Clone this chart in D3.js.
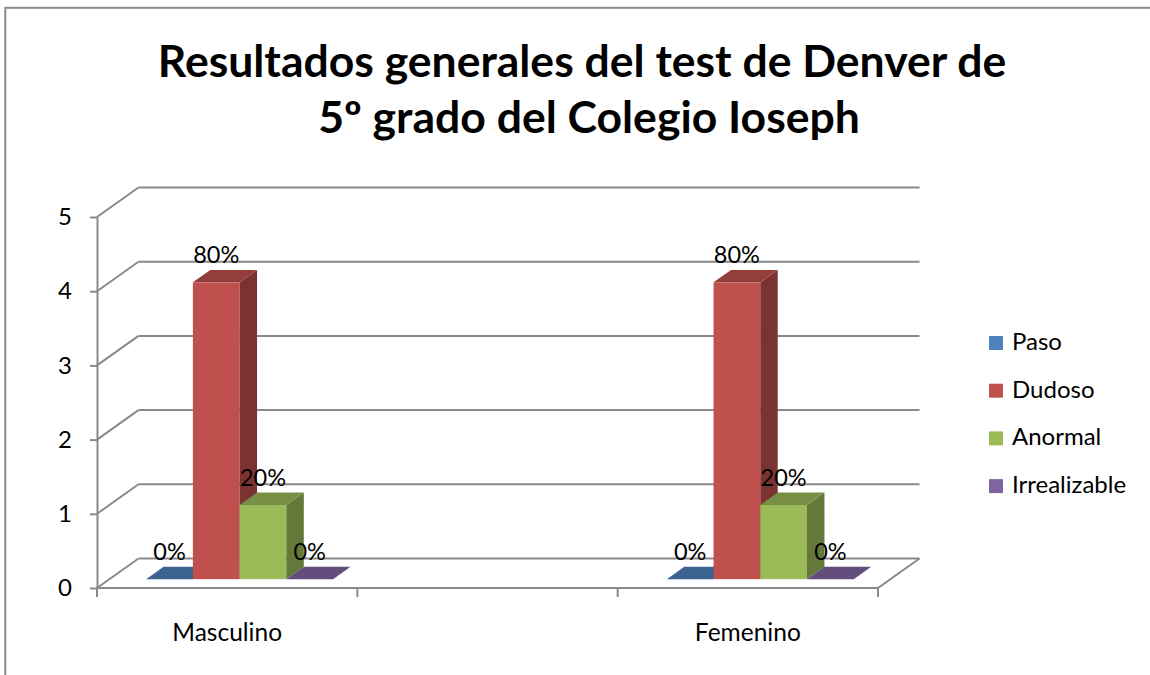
<!DOCTYPE html>
<html>
<head>
<meta charset="utf-8">
<script src="https://cdn.jsdelivr.net/npm/d3@7"></script>
<style>
  html, body { margin: 0; padding: 0; background: #fff; }
  svg { display: block; }
  text { font-family: Lato, "Open Sans", sans-serif; fill: #000; }
</style>
</head>
<body>
<svg id="chart" width="1150" height="675"></svg>
<script>
// Chart data
const titleLines = ["Resultados generales del test de Denver de", "5º grado del Colegio Ioseph"];
const categories = ["Masculino", "", "Femenino"];
const series = ["Paso", "Dudoso", "Anormal", "Irrealizable"];
const seriesColors = ["#4F81BD", "#C0504D", "#9BBB59", "#8064A2"];
// counts per category, one array per series (middle category is an empty slot)
const paso = [0, null, 0];
const dudoso = [4, null, 4];
const anormal = [1, null, 1];
const irrealizable = [0, null, 0];
const yTicks = [0, 1, 2, 3, 4, 5];

const seriesValues = [paso, dudoso, anormal, irrealizable];

const svg = d3.select("#chart");

// Outer frame
svg.append("rect")
  .attr("x", 5.3).attr("y", 7.8)
  .attr("width", 1200).attr("height", 700)
  .attr("fill", "none").attr("stroke", "#898989").attr("stroke-width", 2);

// Title
svg.append("g").selectAll("text")
  .data(titleLines)
  .join("text")
  .attr("x", (d, i) => i === 0 ? 582 : 589)
  .attr("y", (d, i) => 77 + i * 56)
  .attr("text-anchor", "middle")
  .attr("font-weight", "bold")
  .attr("font-size", 44.5)
  .text(d => d);

// 3D plot geometry: front plane scales plus an oblique depth offset
const x = d3.scaleBand().domain(categories).range([97, 878]);
const y = d3.scaleLinear().domain([0, 5]).range([588, 217]);
const depthX = 41.5, depthY = -29.5;
const barFront = 0.30, barBack = 0.72;   // bar depth range as fraction of the floor depth
const inner = d3.scaleBand().domain(series).range([0, x.bandwidth()]).paddingOuter(0.785);

const gridColor = "#898989";
const grid = svg.append("g").attr("stroke", gridColor).attr("stroke-width", 2).attr("fill", "none");

// Back wall gridlines and side wall diagonals
grid.selectAll("line.back")
  .data(yTicks)
  .join("line")
  .attr("class", "back")
  .attr("x1", 97 + depthX).attr("x2", 878 + depthX)
  .attr("y1", d => y(d) + depthY).attr("y2", d => y(d) + depthY);
grid.selectAll("line.side")
  .data(yTicks)
  .join("line")
  .attr("class", "side")
  .attr("x1", 97).attr("x2", 97 + depthX)
  .attr("y1", d => y(d)).attr("y2", d => y(d) + depthY);
// Floor right edge
grid.append("line")
  .attr("x1", 878).attr("x2", 878 + depthX)
  .attr("y1", y(0)).attr("y2", y(0) + depthY);

// Y axis
const yAxis = svg.append("g")
  .attr("transform", "translate(97,0)")
  .call(d3.axisLeft(y).tickValues(yTicks).tickSize(7).tickSizeOuter(0).tickPadding(18).tickFormat(d3.format("d")));
yAxis.select(".domain").attr("stroke", gridColor).attr("stroke-width", 2);
yAxis.selectAll(".tick line").attr("stroke", gridColor).attr("stroke-width", 2);
yAxis.selectAll(".tick text").attr("font-size", 24).attr("font-family", "Lato, sans-serif").attr("fill", "#000");

// X axis line, band boundary ticks and labels
const xg = svg.append("g");
xg.append("line")
  .attr("x1", 97).attr("x2", 878)
  .attr("y1", y(0)).attr("y2", y(0))
  .attr("stroke", gridColor).attr("stroke-width", 2);
const boundaries = categories.map(c => x(c)).concat([x(categories[categories.length - 1]) + x.bandwidth()]);
xg.selectAll("line.tick")
  .data(boundaries)
  .join("line")
  .attr("class", "tick")
  .attr("x1", d => d).attr("x2", d => d)
  .attr("y1", y(0) - 1).attr("y2", y(0) + 9)
  .attr("stroke", gridColor).attr("stroke-width", 2);
xg.selectAll("text")
  .data(categories.filter(c => c !== ""))
  .join("text")
  .attr("x", d => x(d) + x.bandwidth() / 2)
  .attr("y", 641)
  .attr("text-anchor", "middle")
  .attr("font-size", 24.5)
  .text(d => d);

// Bars
const shade = (c, k) => {
  const r = d3.rgb(c);
  return d3.rgb(r.r * k, r.g * k, r.b * k).formatHex();
};
const total = categories.map((c, ci) => d3.sum(seriesValues, s => s[ci] || 0));

const bars = [];
categories.forEach((c, ci) => {
  series.forEach((s, si) => {
    const v = seriesValues[si][ci];
    if (v === null || v === undefined) return;
    bars.push({ cat: c, ci, series: s, si, value: v });
  });
});

const barG = svg.append("g");
bars.forEach(b => {
  const color = seriesColors[b.si];
  const fx0 = x(b.cat) + inner(b.series) + barFront * depthX;
  const fx1 = fx0 + inner.bandwidth();
  const fy0 = y(0) + barFront * depthY;
  const fyT = y(b.value) + barFront * depthY;
  const ddx = (barBack - barFront) * depthX;
  const ddy = (barBack - barFront) * depthY;
  const g = barG.append("g");
  // front face
  if (b.value > 0) {
    g.append("rect")
      .attr("x", fx0).attr("y", fyT)
      .attr("width", fx1 - fx0).attr("height", fy0 - fyT)
      .attr("fill", color);
    // right side face
    g.append("path")
      .attr("d", d3.line()([[fx1, fyT], [fx1 + ddx, fyT + ddy], [fx1 + ddx, fy0 + ddy], [fx1, fy0]]) + "Z")
      .attr("fill", shade(color, 0.64));
  }
  // top face
  g.append("path")
    .attr("d", d3.line()([[fx0, fyT], [fx0 + ddx, fyT + ddy], [fx1 + ddx, fyT + ddy], [fx1, fyT]]) + "Z")
    .attr("fill", shade(color, 0.77));
  // data label
  g.append("text")
    .attr("x", (fx0 + fx1) / 2)
    .attr("y", fyT + ddy - 6.6)
    .attr("text-anchor", "middle")
    .attr("font-size", 23.5)
    .text(d3.format(".0%")(b.value / total[b.ci]));
});

// Legend
const legend = svg.append("g").attr("transform", "translate(989,336)");
const items = legend.selectAll("g")
  .data(series)
  .join("g")
  .attr("transform", (d, i) => `translate(0,${i * 47.7})`);
items.append("rect")
  .attr("width", 14).attr("height", 14)
  .attr("fill", (d, i) => seriesColors[i]);
items.append("text")
  .attr("x", 23).attr("y", 14)
  .attr("font-size", 24)
  .text(d => d);
</script>
</body>
</html>
